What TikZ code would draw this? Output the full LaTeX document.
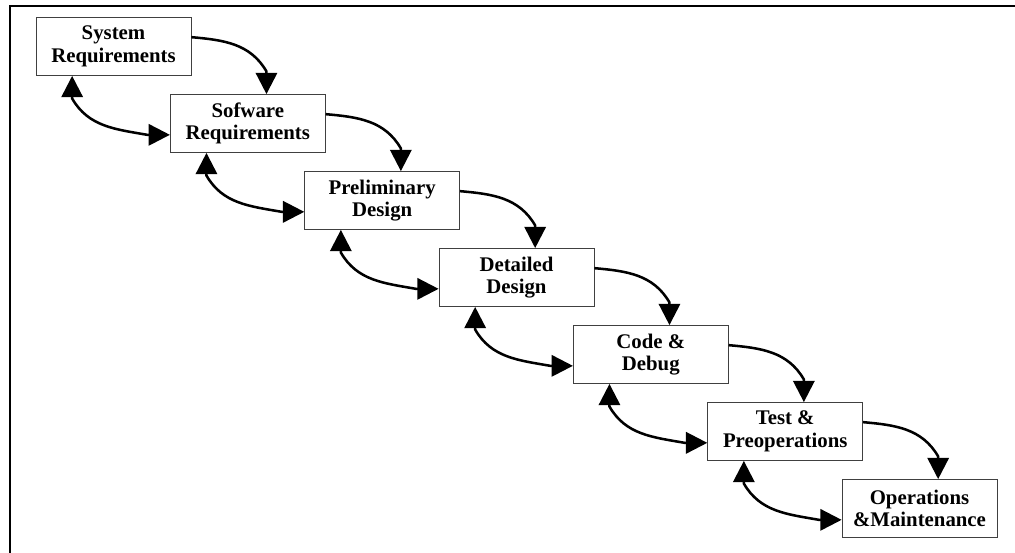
\documentclass[tikz,border=0pt]{standalone}
\usepackage{fontspec}
\setmainfont{Liberation Serif}
\usetikzlibrary{arrows.meta}

\begin{document}
\begin{tikzpicture}[x=0.75pt,y=0.75pt,yscale=-1,xscale=1,
  stage/.style={draw=black!75, line width=0.6pt, fill=white, minimum width=116.25pt, minimum height=43.5pt,
    inner sep=0pt, align=center, font=\bfseries\fontsize{15.6}{17}\selectfont},
  flow/.style={line width=1.9pt, -{Triangle[length=16pt,width=16pt]}},
  backflow/.style={line width=1.9pt, {Triangle[length=16pt,width=16pt]}-{Triangle[length=16pt,width=16pt]}}]
        \useasboundingbox (0,0) rectangle (1015,553);

        %Shape: Frame (only top and left edges show)
        \draw [line width=1.5pt] (10,553) -- (10,5.5) -- (1015,5.5) ;

        % Stage Nodes
        \node [stage] (sysreq) at (113.5,46.5) {System\\Requirements};
        \node [stage] (swreq) at (247.8,123.5) {Sofware\\Requirements};
        \node [stage] (prelim) at (382.2,200.5) {Preliminary\\Design};
        \node [stage] (detail) at (516.5,277.5) {Detailed\\Design};
        \node [stage] (code) at (650.8,354.5) {Code \&\\Debug};
        \node [stage] (test) at (785.2,431.5) {Test \&\\Preoperations};
        \node [stage] (ops) at (919.5,508.5) {Operations\\\&Maintenance};

        % Forward Arrows
        \draw [flow] ([yshift=-7pt]sysreq.east) to [out=5,in=-120] ([xshift=14pt,yshift=-17pt]swreq.north) -- ([xshift=14pt]swreq.north);
        \draw [flow] ([yshift=-7pt]swreq.east) to [out=5,in=-120] ([xshift=14pt,yshift=-17pt]prelim.north) -- ([xshift=14pt]prelim.north);
        \draw [flow] ([yshift=-7pt]prelim.east) to [out=5,in=-120] ([xshift=14pt,yshift=-17pt]detail.north) -- ([xshift=14pt]detail.north);
        \draw [flow] ([yshift=-7pt]detail.east) to [out=5,in=-120] ([xshift=14pt,yshift=-17pt]code.north) -- ([xshift=14pt]code.north);
        \draw [flow] ([yshift=-7pt]code.east) to [out=5,in=-120] ([xshift=14pt,yshift=-17pt]test.north) -- ([xshift=14pt]test.north);
        \draw [flow] ([yshift=-7pt]test.east) to [out=5,in=-120] ([xshift=14pt,yshift=-17pt]ops.north) -- ([xshift=14pt]ops.north);

        % Feedback Arrows
        \draw [backflow] ([xshift=-31pt]sysreq.south) -- ([xshift=-31pt,yshift=17pt]sysreq.south) to [out=60,in=190] ([xshift=-17pt,yshift=8.5pt]swreq.west) -- ([yshift=8.5pt]swreq.west);
        \draw [backflow] ([xshift=-31pt]swreq.south) -- ([xshift=-31pt,yshift=17pt]swreq.south) to [out=60,in=190] ([xshift=-17pt,yshift=8.5pt]prelim.west) -- ([yshift=8.5pt]prelim.west);
        \draw [backflow] ([xshift=-31pt]prelim.south) -- ([xshift=-31pt,yshift=17pt]prelim.south) to [out=60,in=190] ([xshift=-17pt,yshift=8.5pt]detail.west) -- ([yshift=8.5pt]detail.west);
        \draw [backflow] ([xshift=-31pt]detail.south) -- ([xshift=-31pt,yshift=17pt]detail.south) to [out=60,in=190] ([xshift=-17pt,yshift=8.5pt]code.west) -- ([yshift=8.5pt]code.west);
        \draw [backflow] ([xshift=-31pt]code.south) -- ([xshift=-31pt,yshift=17pt]code.south) to [out=60,in=190] ([xshift=-17pt,yshift=8.5pt]test.west) -- ([yshift=8.5pt]test.west);
        \draw [backflow] ([xshift=-31pt]test.south) -- ([xshift=-31pt,yshift=17pt]test.south) to [out=60,in=190] ([xshift=-17pt,yshift=8.5pt]ops.west) -- ([yshift=8.5pt]ops.west);

\end{tikzpicture}
\end{document}
